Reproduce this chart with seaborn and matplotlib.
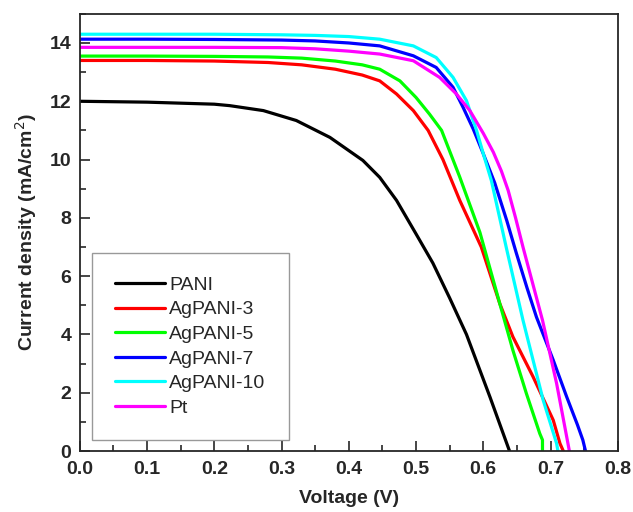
import numpy as np
import pandas as pd
import matplotlib
matplotlib.use("Agg")
import matplotlib.pyplot as plt
import seaborn as sns
from matplotlib.ticker import MultipleLocator, FormatStrFormatter

# J-V curves
labels = ['PANI', 'AgPANI-3', 'AgPANI-5', 'AgPANI-7', 'AgPANI-10', 'Pt']
colors = ['#000000', '#ff0000', '#00ff00', '#0000ff', '#00ffff', '#ff00ff']

v_pani = [0, 0.1, 0.2, 0.223, 0.273, 0.322, 0.372, 0.421, 0.446, 0.471, 0.50, 0.525, 0.55, 0.575, 0.61, 0.639]
j_pani = [12.0, 11.97, 11.9, 11.85, 11.68, 11.34, 10.76, 9.97, 9.39, 8.6, 7.45, 6.45, 5.25, 4.0, 1.85, 0]

v_ag3 = [0, 0.1, 0.2, 0.28, 0.33, 0.38, 0.42, 0.446, 0.471, 0.496, 0.518, 0.54, 0.565, 0.597,
         0.6245, 0.644, 0.674, 0.704, 0.714, 0.719]
j_ag3 = [13.4, 13.4, 13.38, 13.33, 13.25, 13.1, 12.9, 12.7, 12.25, 11.68, 11.0, 10.0, 8.6, 7.0,
         5.06, 3.92, 2.55, 1.06, 0.26, 0]

v_ag5 = [0, 0.1, 0.2, 0.28, 0.33, 0.38, 0.42, 0.446, 0.476, 0.5, 0.52, 0.538, 0.565, 0.595,
         0.6245, 0.644, 0.664, 0.684, 0.688, 0.688]
j_ag5 = [13.55, 13.55, 13.54, 13.52, 13.48, 13.38, 13.25, 13.1, 12.7, 12.13, 11.56, 11.0, 9.4, 7.5,
         5.06, 3.46, 1.98, 0.6, 0.38, 0]

v_ag7 = [0, 0.1, 0.2, 0.3, 0.35, 0.4, 0.446, 0.496, 0.53, 0.555, 0.57, 0.585, 0.6, 0.617,
         0.635, 0.649, 0.665, 0.679, 0.704, 0.724, 0.74, 0.748, 0.752]
j_ag7 = [14.13, 14.13, 14.12, 14.1, 14.07, 14.0, 13.9, 13.56, 13.16, 12.48, 11.79, 11.05, 10.2, 9.2,
         7.9, 6.8, 5.6, 4.6, 3.12, 1.86, 0.9, 0.38, 0]

v_ag10 = [0, 0.1, 0.2, 0.3, 0.35, 0.4, 0.446, 0.496, 0.53, 0.555, 0.575, 0.59, 0.6, 0.612,
          0.634, 0.659, 0.689, 0.709, 0.711]
j_ag10 = [14.3, 14.3, 14.3, 14.28, 14.26, 14.22, 14.13, 13.9, 13.5, 12.82, 12.02, 11.0, 10.2, 9.28,
          7.0, 4.49, 1.75, 0.26, 0]

v_pt = [0, 0.1, 0.2, 0.3, 0.35, 0.4, 0.446, 0.496, 0.535, 0.56, 0.58, 0.6, 0.615, 0.627, 0.637,
        0.648, 0.659, 0.688, 0.709, 0.724, 0.728]
j_pt = [13.85, 13.85, 13.85, 13.84, 13.8, 13.72, 13.62, 13.39, 12.82, 12.25, 11.68, 10.9, 10.25, 9.6, 8.94,
        8.0, 7.0, 4.49, 2.32, 0.49, 0]

all_v = [v_pani, v_ag3, v_ag5, v_ag7, v_ag10, v_pt]
all_j = [j_pani, j_ag3, j_ag5, j_ag7, j_ag10, j_pt]

frames = []
for name, v, j in zip(labels, all_v, all_j):
    frames.append(pd.DataFrame({'V': v, 'J': j, 'sample': name}))
df = pd.concat(frames, ignore_index=True)

sns.set_style("ticks")
plt.rcParams['font.family'] = ['Liberation Sans', 'DejaVu Sans']

fig = plt.figure(figsize=(6.33, 5.12), dpi=100)
ax = fig.add_axes([0.126, 0.119, 0.85, 0.854])

sns.lineplot(data=df, x='V', y='J', hue='sample', hue_order=labels,
             palette=dict(zip(labels, colors)), sort=False, estimator=None,
             units='sample', linewidth=2.3, ax=ax)

ax.set_xlim(0, 0.8)
ax.set_ylim(0, 15)
ax.xaxis.set_major_locator(MultipleLocator(0.1))
ax.xaxis.set_minor_locator(MultipleLocator(0.05))
ax.yaxis.set_major_locator(MultipleLocator(2))
ax.yaxis.set_minor_locator(MultipleLocator(1))
ax.xaxis.set_major_formatter(FormatStrFormatter('%.1f'))
ax.tick_params(which='both', direction='in', top=False, right=False, width=1.2)
ax.tick_params(which='major', length=7, labelsize=14)
ax.tick_params(which='minor', length=4)
ax.tick_params(axis='x', which='major', pad=7)
ax.tick_params(axis='y', which='major', pad=6)
for lab in ax.get_xticklabels() + ax.get_yticklabels():
    lab.set_fontweight('bold')
for s in ax.spines.values():
    s.set_linewidth(1.3)
    s.set_visible(True)

ax.set_xlabel('Voltage (V)', fontsize=14, fontweight='bold', labelpad=9)
ax.set_ylabel('Current density (mA/cm$^2$)', fontsize=14, fontweight='bold', labelpad=8)

leg = ax.legend(loc='lower left', bbox_to_anchor=(0.022, 0.025, 0.366, 0.428), mode='expand',
                fontsize=14, handlelength=2.6, handletextpad=0.2, labelspacing=0.36,
                borderpad=1.2, fancybox=False, frameon=True, borderaxespad=0)
leg.get_frame().set_edgecolor('#808080')
leg.get_frame().set_linewidth(1.0)
for line in leg.get_lines():
    line.set_linewidth(2.3)

fig.savefig('out.png', dpi=100)
